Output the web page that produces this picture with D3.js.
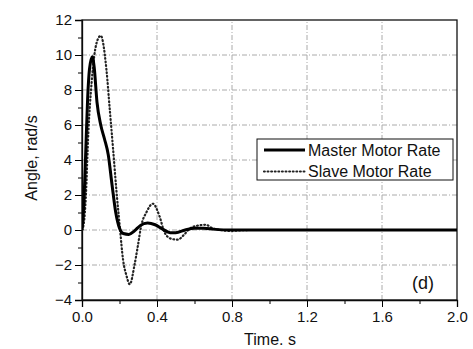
<!DOCTYPE html>
<html>
<head>
<meta charset="utf-8">
<script src="https://cdn.jsdelivr.net/npm/d3@7"></script>
<style>
  body { margin: 0; background: #fff; }
  text { font-family: "Liberation Sans", Arial, sans-serif; fill: #111; }
</style>
</head>
<body>
<svg id="graph"></svg>
<script>
// time points (s) and rates (rad/s)
var masterT = [0, 0.01, 0.02, 0.03, 0.04, 0.055, 0.065, 0.08, 0.1, 0.12, 0.14, 0.16, 0.18, 0.2, 0.22, 0.25, 0.28, 0.31, 0.35, 0.39, 0.43, 0.47, 0.5, 0.55, 0.6, 0.65, 0.7, 0.8, 1.0, 1.4, 2.0];
var masterV = [0, 1.5, 4.5, 7.5, 9.2, 9.9, 9.3, 7.3, 6.0, 5.2, 4.3, 2.6, 1.0, 0.1, -0.2, -0.25, -0.05, 0.25, 0.4, 0.3, 0.05, -0.15, -0.15, 0, 0.1, 0.1, 0.05, 0, 0, 0, 0];

var slaveT = [0, 0.01, 0.02, 0.034, 0.051, 0.078, 0.1, 0.13, 0.148, 0.166, 0.184, 0.201, 0.219, 0.237, 0.255, 0.28, 0.298, 0.316, 0.343, 0.378, 0.413, 0.44, 0.475, 0.51, 0.546, 0.572, 0.616, 0.66, 0.696, 0.74, 0.78, 0.9, 1.2, 2.0];
var slaveV = [0, 0.4, 1.8, 5.6, 8.4, 10.7, 11.1, 9.2, 6.9, 4.6, 2.2, 0.25, -1.7, -2.6, -3.1, -2.0, -0.9, 0.25, 1.0, 1.5, 0.8, -0.13, -0.5, -0.55, -0.25, 0.05, 0.25, 0.3, 0.1, 0, -0.05, 0, 0, 0];

var xTicks = [0, 0.4, 0.8, 1.2, 1.6, 2.0];
var yTicks = [-4, -2, 0, 2, 4, 6, 8, 10, 12];
var seriesNames = ['Master Motor Rate', 'Slave Motor Rate'];

var W = 473, H = 349;
var svg = d3.select('#graph').attr('width', W).attr('height', H);

var x = d3.scaleLinear().domain([0, 2]).range([82, 457]);
var y = d3.scaleLinear().domain([-4, 12]).range([300, 20]);

// grid
svg.append('g').selectAll('line').data(xTicks.slice(1, -1)).enter().append('line')
    .attr('x1', d => x(d)).attr('x2', d => x(d))
    .attr('y1', y(-4)).attr('y2', y(12))
    .attr('stroke', '#aaa').attr('stroke-width', 1).attr('stroke-dasharray', '5,2,1,2');
svg.append('g').selectAll('line').data(yTicks.slice(1, -1)).enter().append('line')
    .attr('x1', x(0)).attr('x2', x(2))
    .attr('y1', d => y(d)).attr('y2', d => y(d))
    .attr('stroke', '#aaa').attr('stroke-width', 1).attr('stroke-dasharray', '5,2,1,2');

// minor ticks
svg.append('g').attr('transform', 'translate(0,' + y(-4) + ')')
    .call(d3.axisBottom(x).tickValues(d3.range(0.2, 2, 0.4)).tickSize(4).tickFormat(''))
    .call(g => g.select('.domain').remove());
svg.append('g').attr('transform', 'translate(' + x(0) + ',0)')
    .call(d3.axisLeft(y).tickValues(d3.range(-3, 12, 2)).tickSize(4).tickFormat(''))
    .call(g => g.select('.domain').remove());

// major axes
var xAxis = svg.append('g').attr('transform', 'translate(0,' + y(-4) + ')')
    .call(d3.axisBottom(x).tickValues(xTicks).tickSize(7).tickPadding(4).tickFormat(d3.format('.1f')));
var yAxis = svg.append('g').attr('transform', 'translate(' + x(0) + ',0)')
    .call(d3.axisLeft(y).tickValues(yTicks).tickSize(7).tickPadding(3));
[xAxis, yAxis].forEach(g => {
    g.selectAll('text').style('font-size', '15px').attr('fill', '#111');
    g.select('.domain').attr('stroke-width', 1.3);
});

// box top/right
svg.append('rect').attr('x', x(0)).attr('y', y(12))
    .attr('width', x(2) - x(0)).attr('height', y(-4) - y(12))
    .attr('fill', 'none').attr('stroke', '#111').attr('stroke-width', 1.3);

var line = d3.line().x(d => x(d[0])).y(d => y(d[1])).curve(d3.curveMonotoneX);
svg.append('clipPath').attr('id', 'c').append('rect')
    .attr('x', x(0)).attr('y', y(12)).attr('width', x(2) - x(0)).attr('height', y(-4) - y(12));

svg.append('path').datum(d3.zip(slaveT, slaveV))
    .attr('d', line).attr('fill', 'none').attr('stroke', '#222')
    .attr('stroke-width', 2.2).attr('stroke-dasharray', '0.8,2.8').attr('stroke-linecap', 'round')
    .attr('clip-path', 'url(#c)');
svg.append('path').datum(d3.zip(masterT, masterV))
    .attr('d', line).attr('fill', 'none').attr('stroke', '#000')
    .attr('stroke-width', 3).attr('stroke-linejoin', 'round')
    .attr('clip-path', 'url(#c)');

// legend
var lg = svg.append('g');
lg.append('rect').attr('x', 257).attr('y', 139).attr('width', 196).attr('height', 41)
    .attr('fill', '#fff').attr('stroke', '#111').attr('stroke-width', 1);
seriesNames.forEach(function (name, i) {
    var yy = 150 + i * 21.5;
    lg.append('line').attr('x1', 264).attr('x2', 305).attr('y1', yy).attr('y2', yy)
        .attr('stroke', i ? '#222' : '#000')
        .attr('stroke-width', i ? 2.2 : 3)
        .attr('stroke-dasharray', i ? '0.8,2.8' : null)
        .attr('stroke-linecap', i ? 'round' : 'butt');
    lg.append('text').attr('x', 308).attr('y', yy + 5.5).style('font-size', '16px').text(name);
});

svg.append('text').attr('x', 423).attr('y', 289).attr('text-anchor', 'middle')
    .style('font-size', '18px').text('(d)');

svg.append('text').attr('x', 270).attr('y', 345).attr('text-anchor', 'middle')
    .style('font-size', '16px').text('Time. s');
svg.append('text').attr('transform', 'translate(37,158) rotate(-90)')
    .attr('text-anchor', 'middle').style('font-size', '16px').text('Angle, rad/s');
</script>
</body>
</html>
